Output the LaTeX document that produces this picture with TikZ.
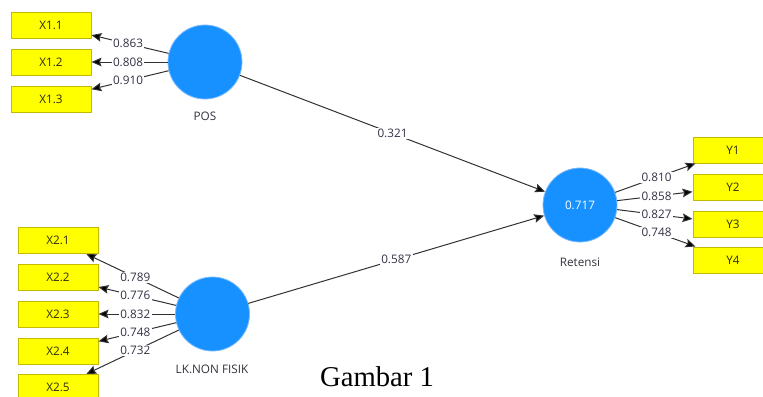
\documentclass[tikz,border=0pt]{standalone}
\usepackage{fontspec}
\setmainfont{Liberation Serif}
\newfontfamily\plsfont{Open Sans}
\usetikzlibrary{arrows.meta,calc}

\tikzset{every picture/.style={line width=0.75pt}}
\tikzset{
  indbox/.style={draw={rgb, 255:red, 196; green, 186; blue, 0 }, fill={rgb, 255:red, 255; green, 255; blue, 0 }, minimum width=60pt, minimum height=19.5pt, inner sep=0pt, font=\plsfont\fontsize{8.8}{10}\selectfont, text={rgb, 255:red, 45; green, 45; blue, 10 }},
  latent/.style={circle, draw={rgb, 255:red, 120; green, 185; blue, 255 }, line width=0.6pt, fill={rgb, 255:red, 22; green, 145; blue, 255 }, minimum size=55.5pt, inner sep=0pt, text=white, font=\plsfont\fontsize{8.8}{10}\selectfont},
  lvname/.style={font=\plsfont\fontsize{8.8}{10}\selectfont, text={rgb, 255:red, 50; green, 50; blue, 60 }},
  load/.style={draw={rgb, 255:red, 50; green, 50; blue, 50 }, -{Stealth[length=7.5pt,width=6.5pt,inset=1.2pt,fill=black]}},
  coef/.style={fill=white, inner sep=1pt, font=\plsfont\fontsize{8.8}{10}\selectfont, text={rgb, 255:red, 50; green, 50; blue, 70 }}
}

\begin{document}
\begin{tikzpicture}[x=0.75pt,y=0.75pt,yscale=-1,xscale=1]
\useasboundingbox (0,0) rectangle (763,396);

%Shape: Circles
\node[latent] (pos) at (205,62) {};
\node[latent] (lk) at (212.5,314) {};
\node[latent] (ret) at (580,205) {0.717};

% Text Node
\node[lvname] (posname) at (205,116) {POS};
\node[lvname] (lkname) at (212,369) {LK.NON FISIK};
\node[lvname] (retname) at (580,262) {Retensi};

%Shape: Rectangles
\node[indbox] (x11) at (51,25.5) {X1.1};
\node[indbox] (x12) at (51,62) {X1.2};
\node[indbox] (x13) at (51,99) {X1.3};
\node[indbox] (x21) at (58,240.5) {X2.1};
\node[indbox] (x22) at (58,277.5) {X2.2};
\node[indbox] (x23) at (58,314) {X2.3};
\node[indbox] (x24) at (58,351) {X2.4};
\node[indbox] (x25) at (58,387.5) {X2.5};
\node[indbox] (y1) at (733,150) {Y1};
\node[indbox] (y2) at (733,187) {Y2};
\node[indbox] (y3) at (733,224) {Y3};
\node[indbox] (y4) at (733,260) {Y4};

%Straight Lines
\foreach \from/\to/\val in {pos/x11/0.863, pos/x12/0.808, pos/x13/0.910,
  lk/x21/0.789, lk/x22/0.776, lk/x23/0.832, lk/x24/0.748, lk/x25/0.732,
  ret/y1/0.810, ret/y2/0.858, ret/y3/0.827, ret/y4/0.748,
  pos/ret/0.321, lk/ret/0.587}
{
  \draw[load] (\from) -- (\to);
  \node[coef] (c-\from-\to) at ($(\from.center)!0.5!(\to.center)$) {\val};
}

% Text Node
\node[font=\fontsize{21.5}{24}\selectfont] (caption) at (377,377) {Gambar 1};

\end{tikzpicture}
\end{document}
